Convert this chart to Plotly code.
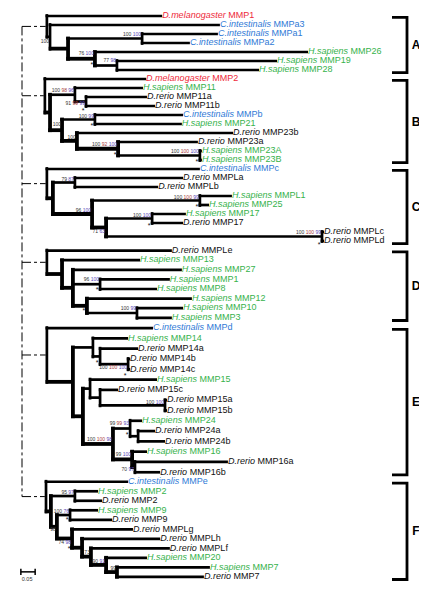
import plotly.graph_objects as go

# ---------------- data ----------------
SPECIES_NAME = {"Dm": "D.melanogaster", "Ci": "C.intestinalis", "Hs": "H.sapiens", "Dr": "D.rerio"}
SPECIES_COLOR = {"Dm": "#ee2a3a", "Ci": "#2f7ad6", "Hs": "#36b24c", "Dr": "#111111"}

leaf_species = ["Dm", "Ci", "Ci", "Ci", "Hs", "Hs", "Hs",
                "Dm", "Hs", "Dr", "Dr", "Ci", "Hs", "Dr", "Dr", "Hs", "Hs",
                "Ci", "Dr", "Dr", "Hs", "Hs", "Hs", "Dr", "Dr", "Dr",
                "Dr", "Hs", "Hs", "Hs", "Hs", "Hs", "Hs", "Hs",
                "Ci", "Hs", "Dr", "Dr", "Dr", "Hs", "Dr", "Dr", "Dr", "Hs", "Dr", "Dr", "Hs", "Dr", "Dr",
                "Ci", "Hs", "Dr", "Hs", "Dr", "Dr", "Dr", "Dr", "Hs", "Hs", "Dr"]
leaf_genes = ["MMP1", "MMPa3", "MMPa1", "MMPa2", "MMP26", "MMP19", "MMP28",
              "MMP2", "MMP11", "MMP11a", "MMP11b", "MMPb", "MMP21", "MMP23b", "MMP23a", "MMP23A", "MMP23B",
              "MMPc", "MMPLa", "MMPLb", "MMPL1", "MMP25", "MMP17", "MMP17", "MMPLc", "MMPLd",
              "MMPLe", "MMP13", "MMP27", "MMP1", "MMP8", "MMP12", "MMP10", "MMP3",
              "MMPd", "MMP14", "MMP14a", "MMP14b", "MMP14c", "MMP15", "MMP15c", "MMP15a", "MMP15b",
              "MMP24", "MMP24a", "MMP24b", "MMP16", "MMP16a", "MMP16b",
              "MMPe", "MMP2", "MMP2", "MMP9", "MMP9", "MMPLg", "MMPLh", "MMPLf", "MMP20", "MMP7", "MMP7"]
# distance from the root to each tip (substitutions / site)
leaf_depth = [0.490, 0.692, 0.685, 0.587, 1.000, 0.892, 0.829,
              0.434, 0.423, 0.437, 0.465, 0.563, 0.559, 0.738, 0.615, 0.629, 0.629,
              0.622, 0.563, 0.476, 0.734, 0.654, 0.573, 0.563, 1.056, 1.056,
              0.524, 0.413, 0.559, 0.517, 0.472, 0.594, 0.563, 0.524,
              0.458, 0.371, 0.406, 0.378, 0.378, 0.472, 0.336, 0.507, 0.507,
              0.420, 0.465, 0.500, 0.437, 0.720, 0.483,
              0.371, 0.266, 0.280, 0.266, 0.315, 0.388, 0.483, 0.517, 0.437, 0.657, 0.636]

# internal nodes: name -> (depth, children)  (ints = leaf index)
nodes = {
    "A": (0.087, [0, "A1"]), "A1": (0.098, [1, "A2"]), "A2": (0.161, ["A3", "A4"]),
    "A3": (0.420, [2, 3]), "A4": (0.255, [4, "A5"]), "A5": (0.332, [5, 6]),
    "B": (0.080, [7, "B1"]), "B1": (0.098, ["B2", "B3"]), "B2": (0.185, [8, "B4"]),
    "B4": (0.224, [9, 10]), "B3": (0.140, ["B5", "B6"]), "B5": (0.255, [11, 12]),
    "B6": (0.192, [13, "B7"]), "B7": (0.336, [14, "B8"]), "B8": (0.622, [15, 16]),
    "C": (0.087, [17, "C1"]), "C1": (0.108, ["C2", "C3"]), "C2": (0.185, [18, 19]),
    "C3": (0.245, ["C4", "C5"]), "C4": (0.622, [20, 21]), "C5": (0.294, ["C6", "C7"]),
    "C6": (0.455, [22, 23]), "C7": (1.049, [24, 25]),
    "D": (0.087, [26, "D1"]), "D1": (0.140, [27, "D2"]), "D2": (0.178, [28, "D3", "D4"]),
    "D3": (0.273, [29, 30]), "D4": (0.227, [31, "D5"]), "D5": (0.402, [32, 33]),
    "E": (0.087, [34, "E1"]), "E1": (0.178, ["E2", "E3"]), "E2": (0.248, [35, "E4"]),
    "E4": (0.273, [36, "E5"]), "E5": (0.371, [37, 38]), "E3": (0.213, ["E6", "E9"]),
    "E6": (0.238, [39, "E7"]), "E7": (0.273, [40, "E8"]), "E8": (0.500, [41, 42]),
    "E9": (0.318, ["E10", "E12"]), "E10": (0.378, [43, "E11"]), "E11": (0.406, [44, 45]),
    "E12": (0.385, [46, "E13"]), "E13": (0.395, [47, 48]),
    "F": (0.084, [49, "F1"]), "F1": (0.101, ["F2", "F3"]), "F2": (0.185, [50, 51]),
    "F3": (0.122, ["F4", "F5"]), "F4": (0.168, [52, 53]), "F5": (0.175, [54, "F6"]),
    "F6": (0.210, [55, "F7"]), "F7": (0.241, [56, "F8"]), "F8": (0.294, [57, "F9"]),
    "F9": (0.332, [58, 59]),
}

clade_names = ["A", "B", "C", "D", "E", "F"]
clade_first = [0, 7, 17, 26, 34, 49]
clade_last = [6, 16, 25, 33, 48, 59]

# bootstrap support labels
boot_nodes = ["A1", "A3", "A4", "A5", "B2", "B4", "B3", "B5", "B6", "B7", "B8",
              "C2", "C3", "C4", "C5", "C6", "C7", "D3", "D5",
              "E5", "E8", "E9", "E10", "E12", "E13",
              "F2", "F4", "F3", "F5", "F7", "F8", "F9"]
boot_text = ["100", "100 100", "76 100", "77 98", "100 98 96", "91 99 99", "100", "100 99", "100",
             "100 92 100", "100 100 100",
             "79 87", "96 100", "100 100 99", "71 63", "100 100", "100 100 99", "96 100", "100 99",
             "100 100 100", "100 100", "100 100 98", "99 99 93", "99 100", "70 97",
             "95 97", "100 76", "98", "74 98", "73", "90 91", "99"]
boot_dy = [0.58, -0.39, -0.6, -0.5, -0.42, 0.3, -0.58, -0.3, -0.32, -0.42, -0.39,
           -0.35, -0.35, -0.35, 0.5, -0.3, -0.4, -0.55, -0.5,
           0.37, -0.33, -0.5, -0.5, -0.52, 0.3,
           -0.33, -0.33, 0.34, 0.47, -0.38, -0.32, -0.42]
star_nodes = ["A4", "B4", "B5", "B7", "B8", "C4", "C6", "C7", "D3", "D4", "E4", "E5", "E10", "E13", "F4", "F5"]
star_dy = [0.45, 0.8, 0.5, 0.45, 0.45, 0.5, 0.6, 0.7, 0.4, 0.4, 0.5, 1.1, 0.5, -0.55, 0.35, 1.0]

thick_nodes = {"A2", "A4", "B1", "B3", "B6", "B7", "C1", "C3", "C5", "D1", "D2", "D4",
               "E1", "E3", "E9", "E12", "F1", "F3", "F5", "F6", "F7", "F8", "F9"}

# ---------------- layout constants ----------------
PAGE_W, PAGE_H = 427, 601
BODY_MARGIN = 8            # default page margin around the plot div
FIG_W, FIG_H = PAGE_W - 2 * BODY_MARGIN, PAGE_H - 2 * BODY_MARGIN
ROOT_PX, TOP_ROW_PX = 22, 16   # page pixel of the root and of the first row
ROW_PX = 9.0
X_PX = 286.0
clade_pitch = [1.0, 1.0, 1.0, 1.067, 1.144, 1.056]
W_THIN, W_THICK = 2.7, 3.8
LABEL_FONT = "Liberation Sans, Arial, sans-serif"


def clade_of(i):
    k = 0
    for j, f in enumerate(clade_first):
        if i >= f:
            k = j
    return k


rows = []
for i in range(len(leaf_genes)):
    rows.append(0.0 if i == 0 else rows[-1] + clade_pitch[clade_of(i)])

node_y = {}


def get_y(c):
    if isinstance(c, int):
        return rows[c]
    if c not in node_y:
        ch = nodes[c][1]
        node_y[c] = (get_y(ch[0]) + get_y(ch[-1])) / 2
    return node_y[c]


def get_x(c):
    return leaf_depth[c] if isinstance(c, int) else nodes[c][0]


segs = {W_THIN: ([], []), W_THICK: ([], [])}


def add_seg(w, x0, y0, x1, y1):
    xs, ys = segs[w]
    xs += [x0, x1, None]
    ys += [y0, y1, None]


ext = (W_THICK / 2) / ROW_PX
for n, (d, ch) in nodes.items():
    wv = W_THICK if n in thick_nodes else W_THIN
    add_seg(wv, d, get_y(ch[0]) - ext, d, get_y(ch[-1]) + ext)
    for c in ch:
        wh = W_THICK if (not isinstance(c, int) and c in thick_nodes) else W_THIN
        add_seg(wh, d - (wv / 2) / X_PX, get_y(c), get_x(c), get_y(c))

fig = go.Figure()
for w, (xs, ys) in segs.items():
    fig.add_trace(go.Scatter(x=xs, y=ys, mode="lines", line=dict(color="black", width=w),
                             hoverinfo="skip", showlegend=False))

# dashed backbone
bx, by = [0, 0, None], [get_y("A"), get_y("F"), None]
for c in clade_names:
    bx += [0, nodes[c][0] - 0.004, None]
    by += [get_y(c), get_y(c), None]
fig.add_trace(go.Scatter(x=bx, y=by, mode="lines", line=dict(color="black", width=1, dash="dashdot"),
                         hoverinfo="skip", showlegend=False))

# leaf labels
fig.add_trace(go.Scatter(
    x=leaf_depth, y=rows, mode="text",
    text=[f"<i>{SPECIES_NAME[s]}</i> {g}" for s, g in zip(leaf_species, leaf_genes)],
    textposition="middle right",
    textfont=dict(family=LABEL_FONT, size=9, color=[SPECIES_COLOR[s] for s in leaf_species]),
    hoverinfo="skip", showlegend=False))

# bootstrap labels
part_colors = ["#333333", "#a83a3a", "#5a48b8"]


def color_parts(t):
    parts = t.split(" ")
    if len(parts) == 1:
        cols = [part_colors[0]]
    elif len(parts) == 2:
        cols = [part_colors[0], part_colors[2]]
    else:
        cols = part_colors
    return " ".join(f"<span style='color:{c}'>{p}</span>" for p, c in zip(parts, cols))


fig.add_trace(go.Scatter(
    x=[nodes[n][0] - 1.0 / X_PX for n in boot_nodes],
    y=[get_y(n) + dy for n, dy in zip(boot_nodes, boot_dy)],
    mode="text", text=[color_parts(t) for t in boot_text], textposition="middle left",
    textfont=dict(family=LABEL_FONT, size=5, color="#333333"),
    hoverinfo="skip", showlegend=False))
fig.add_trace(go.Scatter(
    x=[nodes[n][0] - 3.0 / X_PX for n in star_nodes],
    y=[get_y(n) + dy + 0.25 for n, dy in zip(star_nodes, star_dy)],
    mode="text", text=["*"] * len(star_nodes), textposition="middle center",
    textfont=dict(family=LABEL_FONT, size=7, color="#111111"),
    hoverinfo="skip", showlegend=False))

# clade brackets
BR_IN, BR_OUT, BR_TXT = (392 - ROOT_PX) / X_PX, (407 - ROOT_PX) / X_PX, (416 - ROOT_PX) / X_PX
brx, bry = [], []
for f, l in zip(clade_first, clade_last):
    t, b = rows[f] + 0.15, rows[l] + 0.3
    brx += [BR_IN, BR_OUT, BR_OUT, BR_IN, None]
    bry += [t, t, b, b, None]
fig.add_trace(go.Scatter(x=brx, y=bry, mode="lines", line=dict(color="black", width=2.8),
                         hoverinfo="skip", showlegend=False))
fig.add_trace(go.Scatter(
    x=[BR_TXT] * 6, y=[(rows[f] + rows[l]) / 2 + 0.35 for f, l in zip(clade_first, clade_last)],
    mode="text", text=[f"<b>{c}</b>" for c in clade_names], textposition="middle center",
    textfont=dict(family=LABEL_FONT, size=12, color="black"), hoverinfo="skip", showlegend=False,
    cliponaxis=False))

# scale bar
SCALE = 0.05
sy = rows[-1] - 0.55
sx0 = -0.004
fig.add_trace(go.Scatter(
    x=[sx0, sx0 + SCALE, None, sx0, sx0, None, sx0 + SCALE, sx0 + SCALE],
    y=[sy, sy, None, sy - 0.35, sy + 0.35, None, sy - 0.35, sy + 0.35],
    mode="lines", line=dict(color="black", width=1.5), hoverinfo="skip", showlegend=False))
fig.add_trace(go.Scatter(x=[sx0 + SCALE / 2 - 0.003], y=[sy + 0.85], mode="text", text=["0.05"],
                         textposition="middle center",
                         textfont=dict(family=LABEL_FONT, size=5.5, color="#333333"),
                         hoverinfo="skip", showlegend=False))

left_px, right_px = BODY_MARGIN, BODY_MARGIN + FIG_W
top_px, bot_px = BODY_MARGIN, BODY_MARGIN + FIG_H
fig.update_layout(
    width=FIG_W, height=FIG_H, margin=dict(l=0, r=0, t=0, b=0),
    paper_bgcolor="white", plot_bgcolor="white", showlegend=False,
    xaxis=dict(range=[(left_px - ROOT_PX) / X_PX, (right_px - ROOT_PX) / X_PX],
               visible=False, fixedrange=True),
    yaxis=dict(range=[(bot_px - TOP_ROW_PX) / ROW_PX, (top_px - TOP_ROW_PX) / ROW_PX],
               visible=False, fixedrange=True),
)
fig.write_html("out.html")
